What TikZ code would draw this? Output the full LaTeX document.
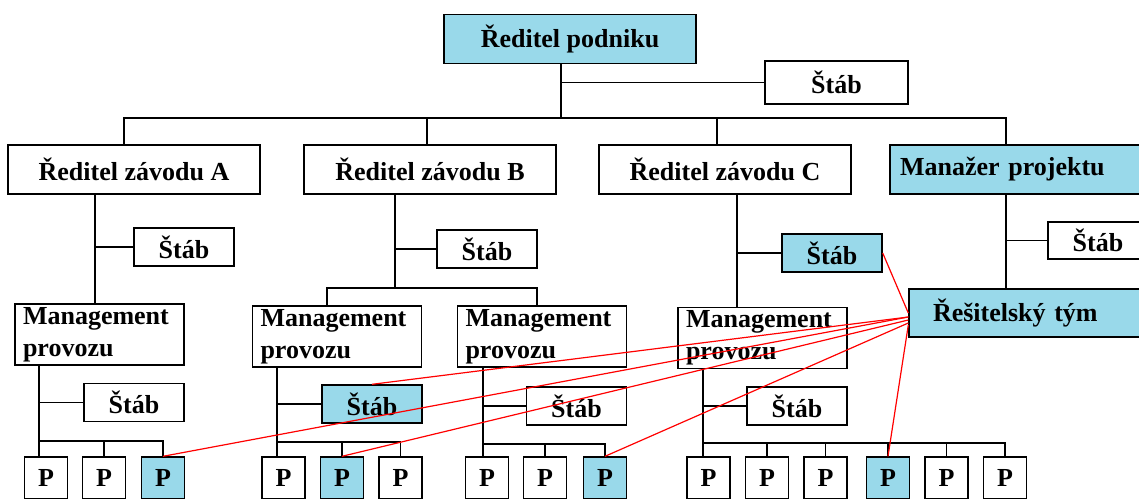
\documentclass[tikz,border=0pt]{standalone}
\usepackage{fontspec}
\setmainfont{Liberation Serif}
\usepackage{tikz}
\usetikzlibrary{positioning,calc}
\definecolor{hiblue}{HTML}{99D9EA}

\tikzset{
  box/.style={draw=black,line width=0.7pt,fill=white,inner sep=0pt,
    font=\fontsize{13}{16}\selectfont\bfseries},
  hi/.style={fill=hiblue},
  head/.style={box,minimum width=126pt,minimum height=24.5pt},
  stab/.style={box,minimum width=50pt,minimum height=19pt},
  mgmt/.style={box,minimum height=30.5pt,text width=76.5pt,inner xsep=4pt,align=left},
  pbox/.style={box,minimum width=21.5pt,minimum height=21pt},
  link/.style={line width=0.7pt},
  team/.style={draw=red,line width=0.6pt},
}

\begin{document}
\begin{tikzpicture}[x=0.5pt,y=-0.5pt]
  \useasboundingbox (0,0) rectangle (1139,498);
  \clip (0,0) rectangle (1139,498);

  % top level
  \node[head,hi] (podnik) at (570,39) {Ředitel podniku};
  \node[box,minimum width=71.5pt,minimum height=21.5pt] (stab0) at (836.5,82.5) {Štáb};
  \node[head] (zavA) at (134,169.5) {Ředitel závodu A};
  \node[head] (zavB) at (430,169.5) {Ředitel závodu B};
  \node[head] (zavC) at (725,169.5) {Ředitel závodu C};
  \node[box,hi,minimum height=24.5pt,text width=135pt,inner xsep=5pt,align=left]
    (manazer) at (1035,169.5) {Manažer projektu};

  % staff and team
  \node[stab] (stabA1) at (184,247) {Štáb};
  \node[stab] (stabB) at (487,249) {Štáb};
  \node[stab,hi] (stabC) at (832,253) {Štáb};
  \node[box,minimum width=50pt,minimum height=18.5pt] (stabM) at (1098,240.5) {Štáb};
  \node[box,hi,minimum height=24pt,text width=121pt,inner xsep=12pt,align=left]
    (tym) at (1054,313) {Řešitelský tým};

  % operations
  \node[mgmt] (mgmtA) at (99.5,334.5) {Management\\provozu};
  \node[mgmt] (mgmtB1) at (337,336.5) {Management\\provozu};
  \node[mgmt] (mgmtB2) at (542,336.5) {Management\\provozu};
  \node[mgmt] (mgmtC) at (762.5,338) {Management\\provozu};
  \node[stab] (stabA2) at (134,402.5) {Štáb};
  \node[stab,hi] (stabB1) at (372,404) {Štáb};
  \node[stab] (stabB2) at (576.5,406) {Štáb};
  \node[stab] (stabC2) at (797,406) {Štáb};

  % workers
  \foreach \n/\x/\f in {A1/46/white,A2/104/white,A3/163/hiblue,
      B1a/283.5/white,B1b/342/hiblue,B1c/400.5/white,
      B2a/487/white,B2b/545/white,B2c/605/hiblue,
      C1/708.5/white,C2/767/white,C3/825.5/white,C4/888/hiblue,C5/946.5/white,C6/1005/white}
    \node[pbox,fill=\f] (p\n) at (\x,478) {P};

  % line of command
  \coordinate (bus0) at (561,118);
  \draw[link] (bus0 |- podnik.south) -- (bus0);
  \draw[link] (stab0.west) -- (stab0.west -| bus0);
  \draw[link] ([xshift=-5pt]zavA.north) |- (bus0) -| ([xshift=-14.5pt]manazer.north);
  \draw[link] ([xshift=-1.5pt]zavB.north) |- (bus0);
  \draw[link] ([xshift=-4pt]zavC.north) |- (bus0);

  \coordinate (jA) at (95,247);
  \draw[link] (jA |- zavA.south) -- (jA |- mgmtA.north);
  \draw[link] (stabA1.west) -- (stabA1.west -| jA);
  \coordinate (busA) at (39,441);
  \draw[link] (busA |- mgmtA.south) -- (busA |- pA1.north);
  \draw[link] (stabA2.west) -- (stabA2.west -| busA);
  \foreach \n in {A2,A3} \draw[link] (busA) -| (p\n.north);

  \coordinate (busB) at (395,288);
  \draw[link] (busB |- zavB.south) -- (busB);
  \draw[link] (stabB.west) -- (stabB.west -| busB);
  \draw[link] (busB) -| ([xshift=-5pt]mgmtB1.north);
  \draw[link] (busB) -| ([xshift=-2.5pt]mgmtB2.north);

  \coordinate (busB1) at (277,442);
  \draw[link] (busB1 |- mgmtB1.south) -- (busB1 |- pB1a.north);
  \draw[link] (stabB1.west) -- (stabB1.west -| busB1);
  \foreach \n in {B1b,B1c} \draw[link] (busB1) -| (p\n.north);

  \coordinate (busB2) at (483,444);
  \draw[link] (busB2 |- mgmtB2.south) -- (busB2 |- pB2a.north);
  \draw[link] (stabB2.west) -- (stabB2.west -| busB2);
  \foreach \n in {B2b,B2c} \draw[link] (busB2) -| (p\n.north);

  \coordinate (jC) at (737,253);
  \draw[link] (jC |- zavC.south) -- (jC |- mgmtC.north);
  \draw[link] (stabC.west) -- (stabC.west -| jC);
  \coordinate (busC) at (703,443);
  \draw[link] (busC |- mgmtC.south) -- (busC |- pC1.north);
  \draw[link] (stabC2.west) -- (stabC2.west -| busC);
  \foreach \n in {C2,C3,C4,C5,C6} \draw[link] (busC) -| (p\n.north);

  \coordinate (jM) at (1006,240.5);
  \draw[link] (jM |- manazer.south) -- (jM |- tym.north);
  \draw[link] (stabM.west) -- (jM);

  % project team links
  \draw[team] (tym.west) -- (stabC.east);
  \draw[team] ([yshift=-2pt]tym.west) -- (stabB1.north);
  \draw[team] ([yshift=-2pt]tym.west) -- (pA3.north);
  \draw[team] ([yshift=-3.5pt]tym.west) -- (pB1b.north);
  \draw[team] ([yshift=-5pt]tym.west) -- (pB2c.north);
  \draw[team] ([yshift=-6pt]tym.west) -- (pC4.north);
\end{tikzpicture}
\end{document}
